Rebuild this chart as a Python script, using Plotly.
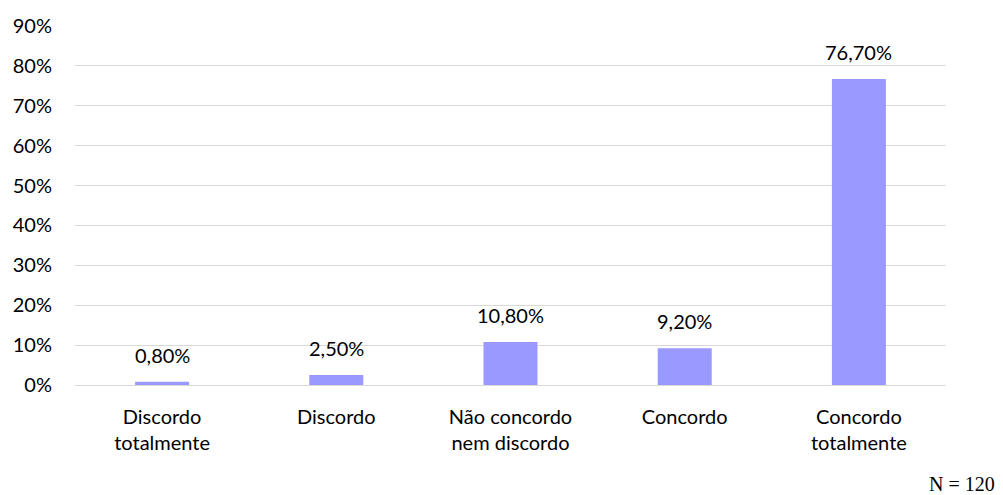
"""Bar chart of agreement levels."""

from plotly import graph_objects as go

categories = [
    "Discordo<br>totalmente",
    "Discordo",
    "Não concordo<br>nem discordo",
    "Concordo",
    "Concordo<br>totalmente",
]
values = [0.8, 2.5, 10.8, 9.2, 76.7]
value_labels = ["0,80%", "2,50%", "10,80%", "9,20%", "76,70%"]
y_ticks = [0, 10, 20, 30, 40, 50, 60, 70, 80, 90]

FONT = "Lato"
SIZE = 20
BAR_COLOR = "#9999FF"

fig = go.Figure(
    go.Bar(
        x=categories,
        y=values,
        marker={"color": BAR_COLOR, "line": {"width": 0}},
        width=0.31,
        hoverinfo="skip",
    )
)

for cat, val, label in zip(categories, values, value_labels):
    fig.add_annotation(
        x=cat,
        y=val,
        text=label,
        showarrow=False,
        yanchor="bottom",
        yshift=13,
        font={"family": FONT, "size": SIZE, "color": "#000000"},
    )

fig.add_annotation(
    x=1.0,
    y=0,
    xref="paper",
    yref="paper",
    xanchor="right",
    yanchor="middle",
    xshift=51,
    yshift=-99,
    text="N = 120",
    showarrow=False,
    font={"family": "Liberation Serif", "size": 20, "color": "#000000"},
)

# page body adds ~8px offset, margins compensate for it
fig.update_layout(
    width=1003,
    height=495,
    margin={"l": 67, "r": 65, "t": 18, "b": 118},
    plot_bgcolor="white",
    paper_bgcolor="white",
    showlegend=False,
    font={"family": FONT, "size": SIZE, "color": "#000000"},
)
fig.update_yaxes(
    range=[0, 90],
    tickvals=y_ticks,
    ticktext=[f"{t}%" for t in y_ticks],
    showgrid=True,
    gridcolor="#d9d9d9",
    gridwidth=1,
    zeroline=False,
    showline=False,
    ticks="",
    ticklabelstandoff=22,
    automargin=False,
)
fig.update_xaxes(
    showgrid=False,
    showline=True,
    linecolor="#d9d9d9",
    linewidth=1,
    ticks="",
    ticklabelstandoff=14,
    automargin=False,
)

fig.write_html("out.html")
